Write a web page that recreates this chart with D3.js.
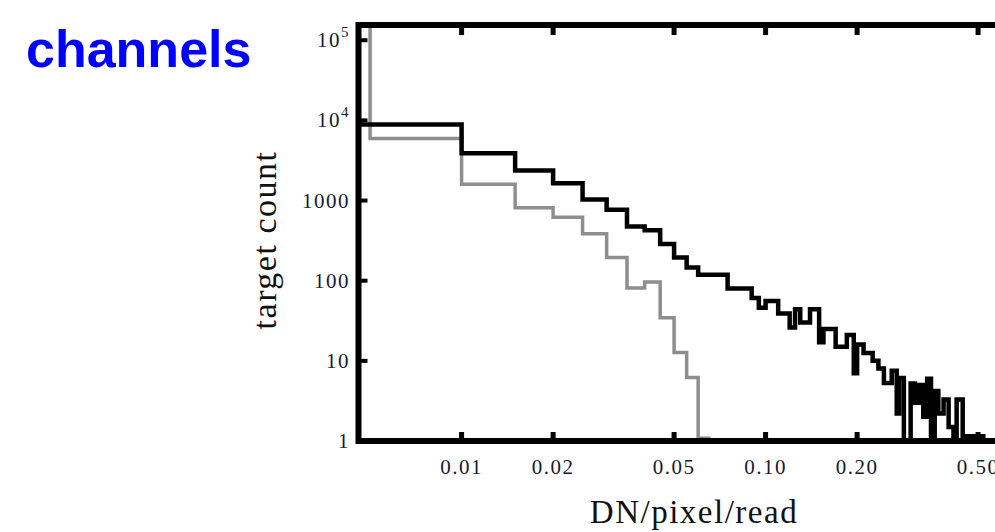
<!DOCTYPE html>
<html><head><meta charset="utf-8">
<script src="https://cdn.jsdelivr.net/npm/d3@7"></script>
<style>html,body{margin:0;padding:0;background:#fff;overflow:hidden}</style>
</head><body>
<script>
// ---- data ----
const xTicks = [0.01, 0.02, 0.05, 0.10, 0.20, 0.50];
const xTickLabels = ["0.01", "0.02", "0.05", "0.10", "0.20", "0.50"];
const yTicks = [1, 10, 100, 1000, 1e4, 1e5];
const yTickLabels = ["1", "10", "100", "1000", "10^4", "10^5"];

const blackEdges = [0.0045, 0.01, 0.015, 0.02, 0.025, 0.03, 0.035, 0.04, 0.045, 0.05, 0.055, 0.06, 0.075, 0.09, 0.095,
  0.10, 0.11, 0.12, 0.125, 0.13, 0.14, 0.15, 0.155, 0.17, 0.185, 0.195, 0.20, 0.21, 0.225, 0.235, 0.245, 0.26, 0.27,
  0.275, 0.285, 0.30, 0.31, 0.32, 0.33, 0.34, 0.35, 0.36, 0.37, 0.385, 0.40, 0.415, 0.425, 0.445, 0.46, 0.52, 0.6];
const blackCounts = [8900, 3900, 2370, 1645, 1030, 770, 473, 427, 287, 195, 146, 119, 80, 61,
  46, 56, 39, 26, 44, 30, 44, 17, 25, 15, 21, 7, 16, 12.5, 10, 8, 5.3, 7.5, 2.2,
  6.1, 1, 5.2, 3, 5, 2, 6, 1, 4.2, 2.2, 3.3, 1.5, 1, 3.3, 1, 1.15, 1];

const grayEdges = [0.0045, 0.005, 0.01, 0.015, 0.02, 0.025, 0.03, 0.035, 0.04, 0.045, 0.05, 0.055, 0.06, 0.065];
const grayCounts = [400000, 5960, 1600, 815, 620, 386, 195, 81, 96, 34.5, 12.7, 6.2, 1.08];

// ---- chart ----
(function () {
const W = 995, H = 532;
const svg = d3.select("body").append("svg").attr("width", W).attr("height", H);

const pLeft = 358.5, pTop = 25, pBottom = 441;
const pxPerDecade = 304;
const xMin = 0.00458, xMax = 0.72;
const x = d3.scaleLog().domain([xMin, xMax])
  .range([pLeft, pLeft + pxPerDecade * Math.log10(xMax / xMin)]);
const pRight = x(xMax);
const y = d3.scaleLog().domain([1, Math.pow(10, 5.19)]).range([pBottom, pTop]);

svg.append("defs").append("clipPath").attr("id", "clip")
  .append("rect").attr("x", pLeft).attr("y", pTop).attr("width", pRight - pLeft).attr("height", pBottom - pTop);

function stepPoints(edges, counts) {
  const pts = counts.map((c, i) => [edges[i], c]);
  pts.push([edges[edges.length - 1], counts[counts.length - 1]]);
  return pts;
}
const line = d3.line().x(d => x(d[0])).y(d => y(Math.max(d[1], 0.5))).curve(d3.curveStepAfter);

const gPlot = svg.append("g").attr("clip-path", "url(#clip)");
const grayPts = stepPoints(grayEdges, grayCounts);
grayPts.push([grayEdges[grayEdges.length - 1], 0.5]);
gPlot.append("path").attr("d", line(grayPts))
  .attr("fill", "none").attr("stroke", "#8e8e8e").attr("stroke-width", 3.5).attr("stroke-linejoin", "miter");
gPlot.append("path").attr("d", line(stepPoints(blackEdges, blackCounts)))
  .attr("fill", "none").attr("stroke", "#000").attr("stroke-width", 4.5).attr("stroke-linejoin", "miter");

// frame
svg.append("rect").attr("x", pLeft).attr("y", pTop).attr("width", pRight - pLeft).attr("height", pBottom - pTop)
  .attr("fill", "none").attr("stroke", "#000").attr("stroke-width", 6);

const serif = "Liberation Serif, Times New Roman, serif";
// x ticks (bottom & top, inward)
xTicks.forEach((t, i) => {
  svg.append("line").attr("x1", x(t)).attr("x2", x(t)).attr("y1", pBottom).attr("y2", pBottom - 9)
    .attr("stroke", "#000").attr("stroke-width", 5);
  svg.append("line").attr("x1", x(t)).attr("x2", x(t)).attr("y1", pTop).attr("y2", pTop + 10)
    .attr("stroke", "#000").attr("stroke-width", 5);
  svg.append("text").attr("x", x(t)).attr("y", 474)
    .attr("text-anchor", "middle").attr("font-family", serif)
    .attr("font-size", 21).attr("letter-spacing", 1.5).attr("fill", "#1a1a2e").text(xTickLabels[i]);
});

// y ticks
yTicks.forEach((t, i) => {
  svg.append("line").attr("x1", pLeft).attr("x2", pLeft + 9).attr("y1", y(t)).attr("y2", y(t))
    .attr("stroke", "#000").attr("stroke-width", 4);
  const lab = yTickLabels[i];
  const tx = svg.append("text").attr("x", 350).attr("y", y(t) + 7)
    .attr("text-anchor", "end").attr("font-family", serif)
    .attr("font-size", 21).attr("letter-spacing", 1.5).attr("fill", "#1a1a2e");
  if (lab.indexOf("^") >= 0) {
    const [b, e] = lab.split("^");
    tx.append("tspan").text(b);
    tx.append("tspan").attr("dy", -10).attr("font-size", 15).text(e);
  } else {
    tx.text(lab);
  }
});

// axis titles
svg.append("text").attr("x", 694).attr("y", 523).attr("text-anchor", "middle")
  .attr("font-family", serif).attr("font-size", 33)
  .attr("letter-spacing", 1.5).attr("fill", "#111").text("DN/pixel/read");
svg.append("text").attr("transform", "translate(276,240) rotate(-90)").attr("text-anchor", "middle")
  .attr("font-family", serif).attr("font-size", 34)
  .attr("letter-spacing", 1.5).attr("fill", "#111").text("target count");

// heading
svg.append("text").attr("x", 26).attr("y", 67)
  .attr("font-family", "Liberation Sans, Arial, sans-serif").attr("font-weight", "bold")
  .attr("font-size", 52).attr("fill", "#0000ff").text("channels");
})();
</script>
</body></html>
